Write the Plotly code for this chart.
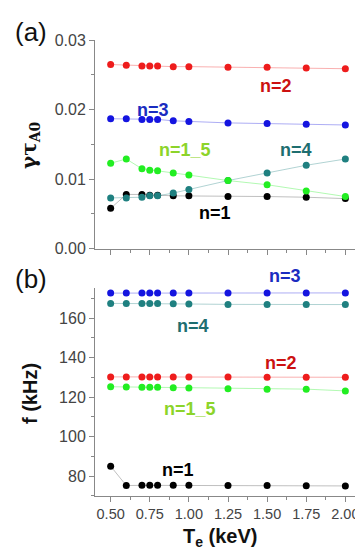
import plotly.graph_objects as go

# Electron temperature scan (keV)
te = [0.5, 0.6, 0.7, 0.75, 0.8, 0.9, 1.0, 1.25, 1.5, 1.75, 2.0]

# (a) growth rate gamma*tau_A0
gam_n1 = [0.0058, 0.0078, 0.0078, 0.0077, 0.0077, 0.0076, 0.0076, 0.0075, 0.0075, 0.0074, 0.0072]
gam_n4 = [0.0073, 0.0073, 0.0074, 0.0076, 0.0076, 0.0080, 0.0085, 0.0098, 0.0109, 0.0120, 0.0129]
gam_n3 = [0.0187, 0.0187, 0.0186, 0.0186, 0.0186, 0.0184, 0.0183, 0.0181, 0.0180, 0.0179, 0.0178]
gam_n2 = [0.0265, 0.0264, 0.0263, 0.0263, 0.0263, 0.0262, 0.0262, 0.0261, 0.0261, 0.0260, 0.0259]
gam_n15 = [0.0123, 0.0129, 0.0115, 0.0113, 0.0112, 0.0109, 0.0106, 0.0098, 0.0092, 0.0083, 0.0075]

# (b) frequency f (kHz)
f_n1 = [85.0, 75.2, 75.3, 75.3, 75.3, 75.3, 75.3, 75.2, 75.2, 75.1, 75.0]
f_n4 = [167.4, 167.4, 167.3, 167.3, 167.3, 167.2, 167.1, 166.9, 166.8, 166.8, 166.8]
f_n3 = [172.6, 172.6, 172.6, 172.6, 172.6, 172.6, 172.6, 172.6, 172.6, 172.7, 172.7]
f_n2 = [130.2, 130.2, 130.2, 130.2, 130.2, 130.1, 130.1, 130.1, 130.0, 130.0, 130.0]
f_n15 = [125.2, 125.1, 125.0, 124.9, 124.9, 124.7, 124.6, 124.2, 123.9, 124.0, 123.1]

series = [
    # name, gamma, freq, marker colour, line colour
    ('n=1', gam_n1, f_n1, '#000000', 'rgba(0,0,0,0.25)'),
    ('n=4', gam_n4, f_n4, '#1f8080', 'rgba(31,128,128,0.35)'),
    ('n=3', gam_n3, f_n3, '#1414e0', 'rgba(20,20,224,0.35)'),
    ('n=2', gam_n2, f_n2, '#ee1c1c', 'rgba(238,28,28,0.35)'),
    ('n=1_5', gam_n15, f_n15, '#22ee22', 'rgba(34,238,34,0.35)'),
]

fig = go.Figure()
for name, g, f, mc, lc in series:
    fig.add_trace(go.Scatter(x=te, y=g, mode='lines+markers', name=name,
                             marker=dict(color=mc, size=7), line=dict(color=lc, width=1),
                             xaxis='x', yaxis='y', showlegend=False))
    fig.add_trace(go.Scatter(x=te, y=f, mode='lines+markers', name=name,
                             marker=dict(color=mc, size=7), line=dict(color=lc, width=1),
                             xaxis='x2', yaxis='y2', showlegend=False))

W, H = 363, 554
xdom = [87 / W, 353 / W]
yfont = dict(family='Liberation Sans, Arial', size=16, color='#444444')
xfont = dict(family='Liberation Sans, Arial', size=14.5, color='#444444')
common_x = dict(range=[0.4, 2.1], domain=xdom, showgrid=False, zeroline=False,
                showline=True, linecolor='#888888', linewidth=1,
                ticks='outside', ticklen=5, tickcolor='#888888',
                tickvals=[0.5, 0.75, 1.0, 1.25, 1.5, 1.75, 2.0],
                minor=dict(ticks='outside', ticklen=3, tickcolor='#888888', dtick=0.125,
                           tick0=0.5),
                tickfont=xfont)
common_y = dict(showgrid=False, zeroline=False, showline=True, linecolor='#888888',
                linewidth=1, ticks='outside', ticklen=5, tickcolor='#888888',
                tickfont=yfont)

fig.update_layout(
    width=W, height=H,
    margin=dict(l=0, r=0, t=0, b=0),
    paper_bgcolor='white', plot_bgcolor='white',
    xaxis=dict(common_x, anchor='y', showticklabels=False),
    yaxis=dict(common_y, domain=[1 - 240 / H, 1 - 25 / H], range=[0, 0.03],
               tickvals=[0, 0.01, 0.02, 0.03], tickformat='.2f',
               minor=dict(ticks='outside', ticklen=3, tickcolor='#888888', dtick=0.005),
               anchor='x'),
    xaxis2=dict(common_x, anchor='y2', tickformat='.2f'),
    yaxis2=dict(common_y, domain=[1 - 495 / H, 1 - 281 / H], range=[70, 175],
                tickvals=[80, 100, 120, 140, 160],
                minor=dict(ticks='outside', ticklen=3, tickcolor='#888888', dtick=10,
                           tick0=70),
                anchor='x2'),
)

lblfont = 'Liberation Sans, Arial'


def px_note(text, px, py, size, color, family=lblfont, angle=0):
    # place a text by its centre, in pixels from the top-left corner
    fig.add_annotation(x=px / W, y=1 - py / H, xref='paper', yref='paper', text=text,
                       xanchor='center', yanchor='middle', textangle=angle,
                       showarrow=False, font=dict(family=family, size=size, color=color))


# series labels (text, x px, y px, colour)
labels = [('n=2', 268, 72, '#cc1111'), ('n=3', 145, 97, '#1a2cc0'),
          ('n=1_5', 177, 138, '#8cd42a'), ('n=4', 288, 138, '#1e6e70'),
          ('n=1', 207, 203, '#000000'),
          ('n=3', 277, 268, '#1a2cc0'), ('n=4', 185, 320, '#1e6e70'),
          ('n=2', 273, 358, '#cc1111'), ('n=1_5', 182, 405, '#8cd42a'),
          ('n=1', 170, 468, '#000000')]
for txt, x, y, c in labels:
    px_note('<b>%s</b>' % txt, x, y, 18, c)

# panel letters and axis titles
px_note('(a)', 23, 16, 26, '#111111')
px_note('(b)', 23, 271, 26, '#111111')
px_note('<b>γτ<sub>A0</sub></b>', 22, 133, 20, '#111111', family='DejaVu Serif', angle=-90)
px_note('<b>f (kHz)</b>', 22, 390, 20, '#111111', angle=-90)
px_note('<b>T<sub>e</sub> (keV)</b>', 212, 538, 20, '#111111')

fig.write_html("out.html")
